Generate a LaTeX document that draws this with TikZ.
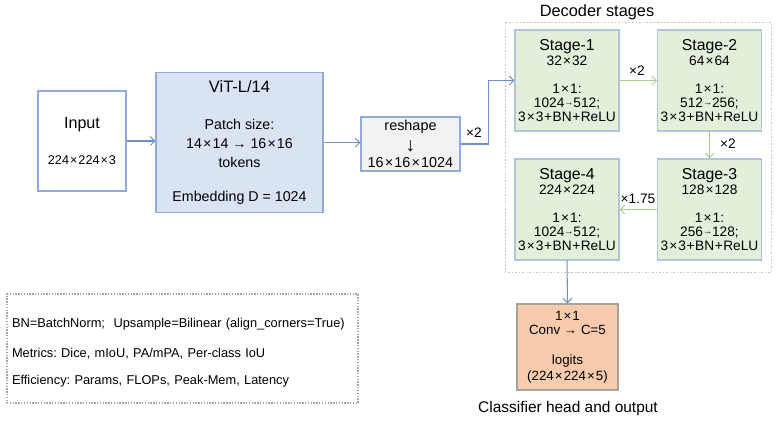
\documentclass[tikz,border=0pt]{standalone}
\usepackage{fontspec}
\setmainfont{Liberation Sans}
\usetikzlibrary{arrows.meta}
\frenchspacing

\definecolor{boxline}{HTML}{8FAADC}
\definecolor{vitfill}{HTML}{DAE3F3}
\definecolor{reshapefill}{HTML}{F2F2F2}
\definecolor{stagefill}{HTML}{E2EFDA}
\definecolor{stageline}{HTML}{B0C4DA}
\definecolor{headfill}{HTML}{F8CBAD}
\definecolor{headline}{HTML}{A8A29C}
\definecolor{flowblue}{HTML}{6F8FC9}
\definecolor{flowgreen}{HTML}{A9D18E}

% small multiplication / plus signs and a short arrow
\newcommand{\tmul}{\hspace{0.08em}×\hspace{0.08em}}
\newcommand{\tplus}{\hspace{0.04em}+\hspace{0.04em}}
\newcommand{\sarrow}{\raisebox{1pt}{\scalebox{0.66}{→}}}

\begin{document}
\begin{tikzpicture}[x=0.02cm,y=-0.02cm,
    box/.style={draw=boxline, line width=0.6pt, align=center, inner sep=0pt},
    stagebox/.style={box, draw=stageline, fill=stagefill, minimum width=2.08cm,
        minimum height=2.02cm, font=\fontsize{7.8}{7.9}\selectfont},
    flow/.style={-{Straight Barb[length=2.5pt,width=5pt]}, draw=flowblue, line width=0.6pt},
    upflow/.style={flow, draw=flowgreen},
    tag/.style={font=\fontsize{7.8}{8}\selectfont, inner sep=0pt},
    caption/.style={font=\fontsize{8.8}{10}\selectfont, inner sep=0pt}]
    \useasboundingbox (0,0) rectangle (777,423);

    % Encoder side
    \node[box, minimum width=1.76cm, minimum height=2cm, font=\fontsize{7.2}{8}\selectfont]
        (input) at (82,141) {{\fontsize{9.2}{10}\selectfont Input}\\[12.5pt] 224\tmul224\tmul3};
    \node[box, fill=vitfill, minimum width=3.34cm, minimum height=2.8cm, font=\fontsize{8.1}{10.8}\selectfont]
        (vit) at (239.5,142.5) {{\fontsize{9.4}{10}\selectfont ViT-L/14}\\[10.7pt]
        Patch size:\\ 14\tmul14 → 16\tmul16\\ tokens\\[8.5pt] Embedding D = 1024};
    \node[box, fill=reshapefill, minimum width=1.98cm, minimum height=1.08cm, font=\fontsize{8.2}{8}\selectfont]
        (reshape) at (410.5,144) {\raisebox{1.5pt}{reshape}\\[2.5pt]
        {\fontsize{11}{10}\selectfont ↓}\\[1.2pt] 16\tmul16\tmul1024};

    % Decoder stages
    \draw[gray!45, line width=0.5pt, dash pattern=on 1pt off 1pt] (505,22) rectangle (771,272);
    \node[caption, font=\fontsize{9.3}{10}\selectfont] (dectitle) at (597,12) {Decoder stages};
    \node[stagebox] (s1) at (567,80.5) {{\fontsize{9}{9}\selectfont Stage-1}\\[1pt] 32\tmul32\\[8pt]
        1\tmul1:\\ 1024\sarrow512;\\ 3\tmul3\tplus BN\tplus ReLU};
    \node[stagebox] (s2) at (709.5,80.5) {{\fontsize{9}{9}\selectfont Stage-2}\\[1pt] 64\tmul64\\[8pt]
        1\tmul1:\\ 512\sarrow256;\\ 3\tmul3\tplus BN\tplus ReLU};
    \node[stagebox] (s3) at (709.5,209.5) {{\fontsize{9}{9}\selectfont Stage-3}\\[1pt] 128\tmul128\\[8pt]
        1\tmul1:\\ 256\sarrow128;\\ 3\tmul3\tplus BN\tplus ReLU};
    \node[stagebox] (s4) at (567,209.5) {{\fontsize{9}{9}\selectfont Stage-4}\\[1pt] 224\tmul224\\[8pt]
        1\tmul1:\\ 1024\sarrow512;\\ 3\tmul3\tplus BN\tplus ReLU};

    % Head
    \node[box, draw=headline, fill=headfill, minimum width=2.02cm, minimum height=1.72cm,
        font=\fontsize{7.6}{8.5}\selectfont]
        (head) at (567.5,347) {1\tmul1\\ Conv → C=5\\[8.3pt] logits\\[0.6pt] (224\tmul224\tmul5)};
    \node[caption] (headtitle) at (568,408) {Classifier head and output};

    % Notes
    \node[draw=gray!70, line width=0.7pt, dash pattern=on 0.8pt off 0.8pt, align=left,
        text width=6.82cm, inner xsep=0.1cm, inner ysep=0pt, minimum height=2.18cm,
        font=\fontsize{7.3}{8}\selectfont]
        (notes) at (182.5,348.5) {\rule{0pt}{9.8pt}BN=BatchNorm;\ \ Upsample=Bilinear (align\_corners=True)\\[9pt]
        Metrics: Dice, mIoU, PA/mPA, Per-class IoU\\[7.3pt]
        Efficiency: Params, FLOPs, Peak-Mem, Latency};

    % Connections
    \draw[flow] (input.east) -- (input.east -| vit.west);
    \draw[flow] (vit.east) -- (vit.east -| reshape.west);
    \draw[flow] (reshape.east) -- ++(28,0) |- (s1.west);
    \node[tag] (upA) at (474,133) {×2};
    \draw[upflow] (s1.east) -- (s2.west);
    \node[tag] (upB) at (637,71) {×2};
    \draw[upflow] (s2.south) -- (s3.north);
    \node[tag] (upC) at (728,144) {×2};
    \draw[upflow] (s3.west) -- (s4.east);
    \node[tag] (upD) at (638,199) {×1.75};
    \draw[flow] (s4.south) -- (head.north);
\end{tikzpicture}
\end{document}
